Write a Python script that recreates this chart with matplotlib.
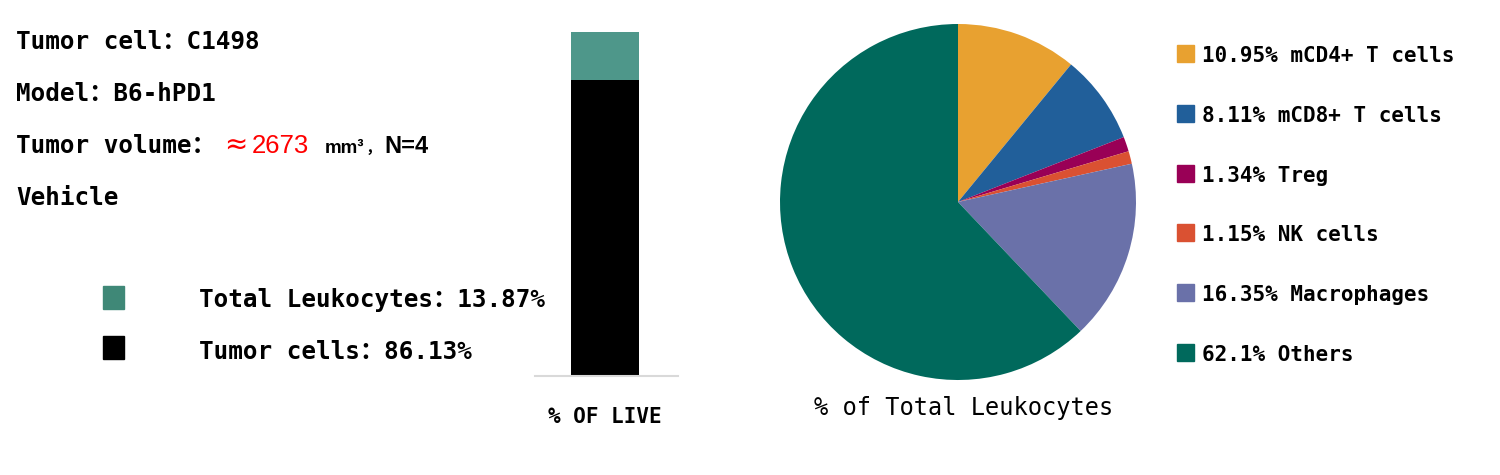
import matplotlib
matplotlib.use("Agg")
import matplotlib.pyplot as plt
from matplotlib.patches import Rectangle

W, H = 1500, 475

# data
live_labels = ["Total Leukocytes", "Tumor cells"]
live_values = [13.87, 86.13]
live_colors = ["#4e978a", "#000000"]
live_legend_colors = ["#3f8877", "#000000"]

cell_labels = ["mCD4+ T cells", "mCD8+ T cells", "Treg", "NK cells", "Macrophages", "Others"]
cell_values = [10.95, 8.11, 1.34, 1.15, 16.35, 62.1]
cell_colors = ["#e8a130", "#215f9a", "#990056", "#da5132", "#6a71a9", "#00695c"]

info_lines = ["Tumor cell：C1498", "Model：B6-hPD1", "Tumor volume：", "Vehicle"]
tumor_volume = 2673
n_mice = 4

MONO = ["DejaVu Sans Mono", "Noto Sans CJK SC"]
SANS = ["Liberation Sans", "Noto Sans CJK SC", "DejaVu Sans"]


def px(x, y):
    return x / W, 1 - y / H


fig = plt.figure(figsize=(W / 100, H / 100), dpi=100)

# header text
for i, line in enumerate(info_lines):
    fig.text(*px(16, 49 + 52 * i), line, family=MONO, fontsize=17.5,
             fontweight="bold", va="baseline")
fig.text(*px(224, 153), "≈", family=["DejaVu Sans"], fontsize=20,
         color="#ff0000", va="baseline")
fig.text(*px(252, 153), f"{tumor_volume}", family=SANS, fontsize=18.5,
         color="#ff0000", va="baseline")
fig.text(*px(325, 153), "mm³", family=SANS, fontsize=13.5, fontweight="bold",
         va="baseline")
fig.text(*px(366, 153), "，", family=["Noto Sans CJK SC"], fontsize=11,
         fontweight="bold", va="baseline")
fig.text(*px(384, 153), f"N={n_mice}", family=SANS, fontsize=17,
         fontweight="bold", va="baseline")

# left legend
for i, (lab, val, col) in enumerate(zip(live_labels, live_values, live_legend_colors)):
    fig.patches.append(Rectangle(px(103, 309 + 50 * i), 21 / W, 23 / H,
                                 transform=fig.transFigure, color=col))
    fig.text(*px(199, 307 + 52 * i), f"{lab}：{val:.2f}%", family=MONO,
             fontsize=17.5, fontweight="bold", va="baseline")

# stacked bar
ax1 = fig.add_axes([535 / W, (H - 376) / H, 143 / W, 344 / H])
bottom = 0
for val, col in zip(live_values[::-1], live_colors[::-1]):
    ax1.bar(0, val, bottom=bottom, width=68 / 143, color=col)
    bottom += val
ax1.set_xlim(-0.5 + 0.0105, 0.5 + 0.0105)
ax1.set_ylim(0, 100)
for s in ["top", "left", "right"]:
    ax1.spines[s].set_visible(False)
ax1.spines["bottom"].set_color("#d9d9d9")
ax1.spines["bottom"].set_linewidth(1.5)
ax1.set_yticks([])
ax1.set_xticks([0])
ax1.set_xticklabels(["% OF LIVE"], family=MONO, fontsize=15, fontweight="bold")
ax1.tick_params(axis="x", length=0, pad=22)

# pie
r = 178
ax2 = fig.add_axes([(958 - r) / W, (H - 202 - r) / H, 2 * r / W, 2 * r / H])
ax2.pie(cell_values, colors=cell_colors, startangle=90, counterclock=False,
        radius=1, wedgeprops=dict(linewidth=0))
ax2.set_xlim(-1, 1)
ax2.set_ylim(-1, 1)
ax2.set_aspect("equal")
ax2.axis("off")
fig.text(*px(964, 408), "% of Total Leukocytes", family=MONO, fontsize=17,
         ha="center", va="center")

# right legend
for i, (lab, val, col) in enumerate(zip(cell_labels, cell_values, cell_colors)):
    fig.patches.append(Rectangle(px(1177, 62 + 59.8 * i), 17 / W, 17 / H,
                                 transform=fig.transFigure, color=col))
    fig.text(*px(1202, 62 + 59.8 * i), f"{val:g}% {lab}", family=MONO,
             fontsize=15, fontweight="bold", va="baseline")

fig.savefig("out.png", dpi=100)
